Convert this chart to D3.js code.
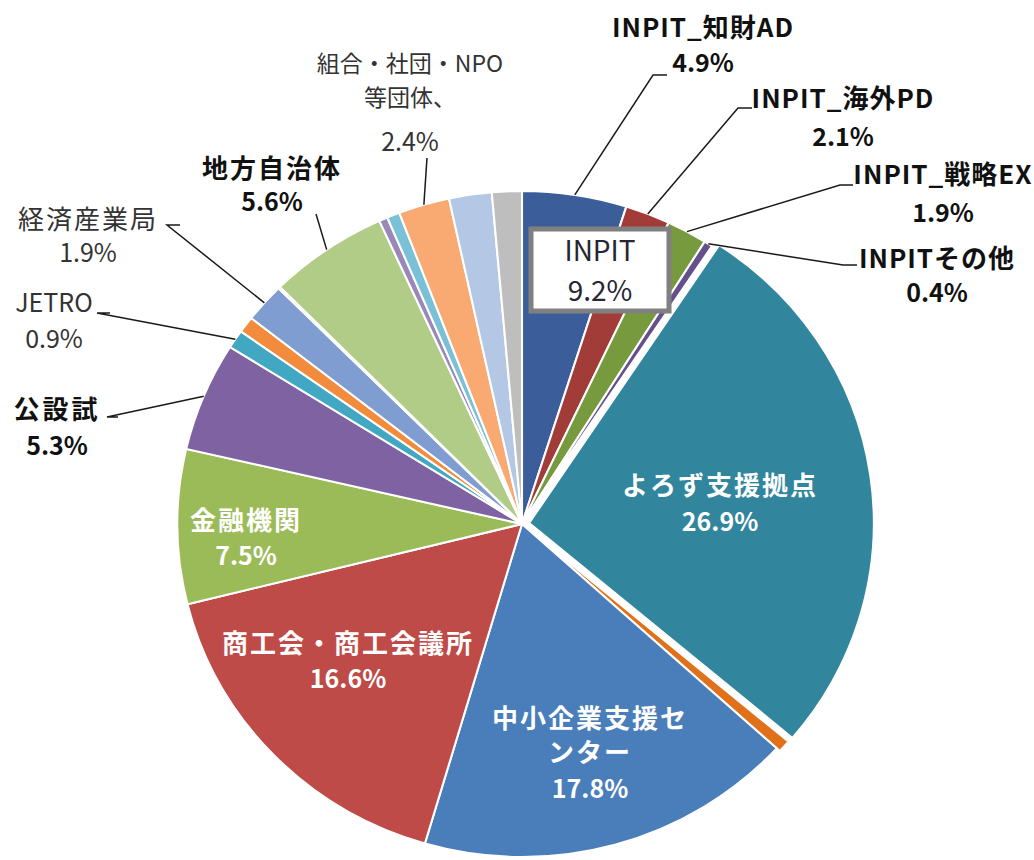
<!DOCTYPE html>
<html>
<head>
<meta charset="utf-8">
<script src="https://cdn.jsdelivr.net/npm/d3@7"></script>
<style>
  body { margin: 0; background: #fff; }
  svg { display: block; }
</style>
</head>
<body>
<div id="vis"></div>
<script>
var width = 1034;
var height = 860;

// slices, clockwise from 12 o'clock
var categories = ["INPIT_知財AD", "INPIT_海外PD", "INPIT_戦略EX", "INPITその他", "よろず支援拠点",
  "その他1", "中小企業支援センター", "商工会・商工会議所", "金融機関", "公設試", "JETRO",
  "その他2", "経済産業局", "その他3", "地方自治体", "その他4", "その他5",
  "組合・社団・NPO等団体、", "その他6", "その他7"];
var values = [4.9, 2.1, 1.9, 0.4, 26.9, 0.6, 17.8, 16.6, 7.5, 5.3, 0.9, 0.8, 1.9, 0.1, 5.6, 0.4, 0.6, 2.4, 2.0, 1.4];
var colors = ["#3b5e9b", "#a23c39", "#789a3e", "#65508c", "#31859c", "#e0701a", "#4a7ebb", "#be4b48",
  "#9bbb59", "#7f62a1", "#41a7c2", "#f28c3c", "#7f9dd0", "#d9a0a0", "#b1cc86", "#9a88ba",
  "#7ac0d6", "#f9aa72", "#b4c7e4", "#bebebe"];
var inpitTotal = "9.2%";

var cx = 522, cy = 524, R = 333, sx = 1.035;
var explode = {4: 7, 5: 4};

var canvas = d3.select("#vis")
  .append("svg")
  .attr("width", width)
  .attr("height", height)
  .style("font-family", "'Noto Sans CJK JP', 'Noto Sans', sans-serif");

var pie = d3.pie().sort(null).value(d => d);
var arcs = pie(values);
var arc = d3.arc().innerRadius(0).outerRadius(R);

var pieG = canvas.append("g")
  .attr("transform", `translate(${cx},${cy}) scale(${sx},1)`);

pieG.selectAll("path")
  .data(arcs)
  .enter()
  .append("path")
  .attr("d", arc)
  .attr("fill", (d, i) => colors[i])
  .attr("stroke", "#fff")
  .attr("stroke-width", 2)
  .attr("transform", (d, i) => {
    var e = explode[i] || 0;
    var m = (d.startAngle + d.endAngle) / 2;
    return `translate(${Math.sin(m) * e},${-Math.cos(m) * e})`;
  });

function edgePoint(i) {
  var d = arcs[i];
  var m = (d.startAngle + d.endAngle) / 2;
  return [cx + sx * R * Math.sin(m), cy - R * Math.cos(m)];
}

// outside labels: text lines, center x, baselines, leader elbow points
var outside = [
  {i: 0, lines: ["INPIT_知財AD"], x: 703, y: [37, 72], bold: true, ls: 1, fs: 26, leader: [[653, 75], [667, 75]]},
  {i: 1, lines: ["INPIT_海外PD"], x: 843, y: [108, 146], bold: true, ls: 1, fs: 26, leader: [[738, 108], [752, 108]]},
  {i: 2, lines: ["INPIT_戦略EX"], x: 943, y: [184, 222], bold: true, ls: 1, fs: 26, leader: [[840, 185], [853, 185]]},
  {i: 3, lines: ["INPITその他"], x: 937, y: [268, 302], bold: true, ls: 1, fs: 26, leader: [[843, 265], [857, 265]]},
  {i: 17, lines: ["組合・社団・NPO", "等団体、"], x: 410, y: [72, 106, 151], bold: false, ls: 0, fs: 23, leader: [[427, 158]]},
  {i: 14, lines: ["地方自治体"], x: 272, y: [178, 211], bold: true, ls: 2, fs: 26, leader: [[316, 214]]},
  {i: 12, lines: ["経済産業局"], x: 88, y: [229, 262], bold: false, ls: 2, fs: 26, leader: [[167, 225], [180, 225]]},
  {i: 10, lines: ["JETRO"], x: 54, y: [312, 348], bold: false, ls: 0, fs: 25, leader: [[97, 313], [110, 313]]},
  {i: 9, lines: ["公設試"], x: 57, y: [419, 455], bold: true, ls: 3, fs: 26, leader: [[107, 417], [118, 417]]}
];

var line = d3.line();

outside.forEach(o => {
  var pts = o.leader.slice().reverse();
  pts.push(edgePoint(o.i));
  canvas.append("path")
    .attr("d", line(pts))
    .attr("fill", "none")
    .attr("stroke", "#1a1a1a")
    .attr("stroke-width", 1.5);

  var t = canvas.append("text")
    .attr("text-anchor", "middle")
    .style("fill", o.bold ? "#111" : "#333")
    .style("font-weight", o.bold ? "bold" : "normal");
  o.lines.forEach((s, k) => {
    t.append("tspan")
      .attr("x", o.x)
      .attr("y", o.y[k])
      .style("font-size", o.fs + "px")
      .style("letter-spacing", o.ls + "px")
      .text(s);
  });
  t.append("tspan")
    .attr("x", o.x)
    .attr("y", o.y[o.lines.length])
    .style("font-size", "25px")
    .text(values[o.i].toFixed(1) + "%");
});

// inside labels
var inside = [
  {i: 4, lines: ["よろず支援拠点"], x: 720, y: [495, 531]},
  {i: 6, lines: ["中小企業支援セ", "ンター"], x: 590, y: [728, 762, 798]},
  {i: 7, lines: ["商工会・商工会議所"], x: 348, y: [653, 688]},
  {i: 8, lines: ["金融機関"], x: 246, y: [530, 565]}
];

inside.forEach(o => {
  var t = canvas.append("text")
    .attr("text-anchor", "middle")
    .style("fill", "#fff")
    .style("font-weight", "bold");
  o.lines.forEach((s, k) => {
    t.append("tspan")
      .attr("x", o.x)
      .attr("y", o.y[k])
      .style("font-size", "26px")
      .style("letter-spacing", "2px")
      .text(s);
  });
  t.append("tspan")
    .attr("x", o.x)
    .attr("y", o.y[o.lines.length])
    .style("font-size", "25px")
    .text(values[o.i].toFixed(1) + "%");
});

// INPIT group box
canvas.append("rect")
  .attr("x", 531)
  .attr("y", 229)
  .attr("width", 138)
  .attr("height", 82)
  .attr("fill", "#fff")
  .attr("stroke", "#808080")
  .attr("stroke-width", 5);

var box = canvas.append("text")
  .attr("text-anchor", "middle")
  .style("fill", "#262633")
  .style("font-size", "28px");
box.append("tspan").attr("x", 600).attr("y", 261).text("INPIT");
box.append("tspan").attr("x", 600).attr("y", 301).text(inpitTotal);
</script>
</body>
</html>
